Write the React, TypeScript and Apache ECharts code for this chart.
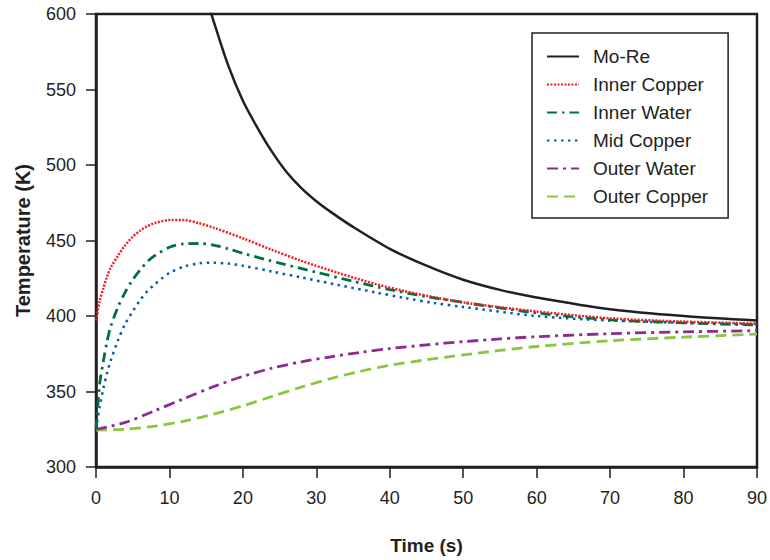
import React, { useEffect, useRef } from "react";
import * as echarts from "echarts";

const seriesNames = ["Mo-Re", "Inner Copper", "Inner Water", "Mid Copper", "Outer Water", "Outer Copper"];
const yTicks = [300, 350, 400, 450, 500, 550, 600];
const xTicks = [0, 10, 20, 30, 40, 50, 60, 70, 80, 90];

const moReTime = [15, 16, 18, 20, 22, 24, 26, 28, 30, 32, 35, 40, 45, 50, 55, 60, 70, 80, 90];
const moReTemp = [611, 595.5, 566, 542.5, 524.5, 508.5, 495, 484.5, 476, 468.8, 459, 444.5, 433.3, 424, 417.3, 412.3, 404.5, 400, 397];

const innerCopperTime = [0, 0.5, 1, 1.5, 2, 3, 4, 5, 6, 7, 8, 10, 12, 14, 16, 20, 24, 28, 33, 38, 42, 46, 50, 60, 70, 80, 90];
const innerCopperTemp = [397, 410, 418.5, 426, 432, 440, 447, 452.5, 456.5, 459.5, 461.5, 463.5, 463.5, 461.5, 458.5, 451.5, 443.7, 436.5, 428.5, 421.3, 416.5, 412.5, 409, 403, 398.5, 396.3, 395];

const innerWaterTime = [0, 0.5, 1, 1.5, 2, 3, 4, 5, 6, 7, 8, 10, 12, 14, 16, 18, 20, 25, 30, 35, 40, 45, 50, 60, 70, 80, 90];
const innerWaterTemp = [325, 355, 370, 383, 393, 406, 416, 424, 430.5, 436, 440, 445.5, 447.8, 448, 447, 444.5, 441.5, 435, 429, 423, 417.5, 412.8, 409, 402, 397.5, 395.5, 394];

const midCopperTime = [0, 0.5, 1, 1.5, 2, 3, 4, 5, 6, 7, 8, 9, 10, 12, 14, 16, 18, 20, 24, 28, 33, 38, 42, 46, 50, 60, 70, 80, 90];
const midCopperTemp = [325, 340, 352, 362, 370.5, 384, 395, 403, 410.5, 416.5, 421, 425, 428.5, 432.8, 434.8, 435.3, 434.7, 433.3, 429.4, 425.5, 420.5, 415.7, 412, 408.6, 406, 400, 397, 395.5, 394.5];

const outerWaterTime = [0, 4, 8, 12, 16, 20, 24, 28, 32, 36, 40, 45, 50, 55, 60, 70, 80, 90];
const outerWaterTemp = [325, 329.5, 337.3, 345.3, 353.2, 360, 365.5, 369.7, 373, 375.9, 378.4, 380.9, 383, 384.8, 386.3, 388.3, 389.5, 390.3];

const outerCopperTime = [0, 4, 8, 12, 16, 20, 24, 28, 32, 36, 40, 45, 50, 55, 60, 70, 80, 90];
const outerCopperTemp = [324.5, 325, 327, 330.4, 335, 340.5, 346.8, 353, 358.6, 363.4, 367.3, 371, 374.2, 377.2, 379.8, 383.6, 386, 388];

const zip = (t: number[], v: number[]) => t.map((x, i) => [x, v[i]]);

const TEXT = "#231f20";
const FONT = "'Liberation Sans', Arial, Helvetica, sans-serif";

export default function App() {
  const ref = useRef<HTMLDivElement>(null);
  useEffect(() => {
    if (!ref.current) return;
    const chart = echarts.init(ref.current, undefined, { renderer: "svg" });
    const styles = [
      { color: "#231f20", type: "solid" as any, width: 2.5 },
      { color: "#ee1c25", type: [2, 1.5], width: 2.5 },
      { color: "#00703c", type: [10, 5, 2.5, 5], width: 2.8 },
      { color: "#0659b3", type: [2.5, 4.5], width: 2.5 },
      { color: "#8e2a91", type: [11, 5, 3, 5], width: 2.8 },
      { color: "#8cc63f", type: [11, 6], width: 2.8 },
    ];
    const data = [
      zip(moReTime, moReTemp),
      zip(innerCopperTime, innerCopperTemp),
      zip(innerWaterTime, innerWaterTemp),
      zip(midCopperTime, midCopperTemp),
      zip(outerWaterTime, outerWaterTemp),
      zip(outerCopperTime, outerCopperTemp),
    ];
    chart.setOption({
      animation: false,
      grid: {
        left: 96,
        right: 11,
        top: 14,
        bottom: 93,
        show: true,
        borderColor: TEXT,
        borderWidth: 2.5,
        backgroundColor: "transparent",
      },
      legend: {
        orient: "vertical",
        left: 532,
        top: 33,
        data: seriesNames,
        itemWidth: 32,
        itemHeight: 14,
        itemGap: 9,
        padding: [14, 20, 12, 14],
        borderColor: TEXT,
        borderWidth: 1.5,
        itemStyle: { opacity: 0 },
        textStyle: { fontSize: 19, color: TEXT, fontFamily: FONT, padding: [0, 0, 0, 9] },
      },
      xAxis: {
        type: "value",
        min: 0,
        max: 90,
        interval: 10,
        name: "Time (s)",
        nameLocation: "middle",
        nameGap: 69,
        nameTextStyle: { fontSize: 19, fontWeight: "bold", color: TEXT, fontFamily: FONT },
        axisLine: { show: true, lineStyle: { color: TEXT, width: 2.5 } },
        axisTick: { show: true, length: 11, lineStyle: { color: TEXT, width: 1.5 } },
        axisLabel: {
          fontSize: 18,
          color: TEXT,
          fontFamily: FONT,
          margin: 22,
          formatter: (v: number) => (xTicks.includes(v) ? String(v) : ""),
        },
        splitLine: { show: false },
      },
      yAxis: {
        type: "value",
        min: 300,
        max: 600,
        interval: 50,
        name: "Temperature (K)",
        nameLocation: "middle",
        nameGap: 63,
        nameTextStyle: { fontSize: 20, fontWeight: "bold", color: TEXT, fontFamily: FONT },
        axisLine: { show: true, lineStyle: { color: TEXT, width: 2.5 } },
        axisTick: { show: true, length: 10, lineStyle: { color: TEXT, width: 1.5 } },
        axisLabel: {
          fontSize: 18,
          color: TEXT,
          fontFamily: FONT,
          margin: 20,
          formatter: (v: number) => (yTicks.includes(v) ? String(v) : ""),
        },
        splitLine: { show: false },
      },
      series: seriesNames.map((name, i) => ({
        name,
        type: "line",
        data: data[i],
        symbol: "none",
        smooth: 0.3,
        clip: true,
        color: styles[i].color,
        lineStyle: styles[i],
        z: 10 - i,
      })),
    });
    return () => chart.dispose();
  }, []);
  return <div ref={ref} style={{ width: 770, height: 560, position: "absolute", left: 0, top: 0 }} />;
}
